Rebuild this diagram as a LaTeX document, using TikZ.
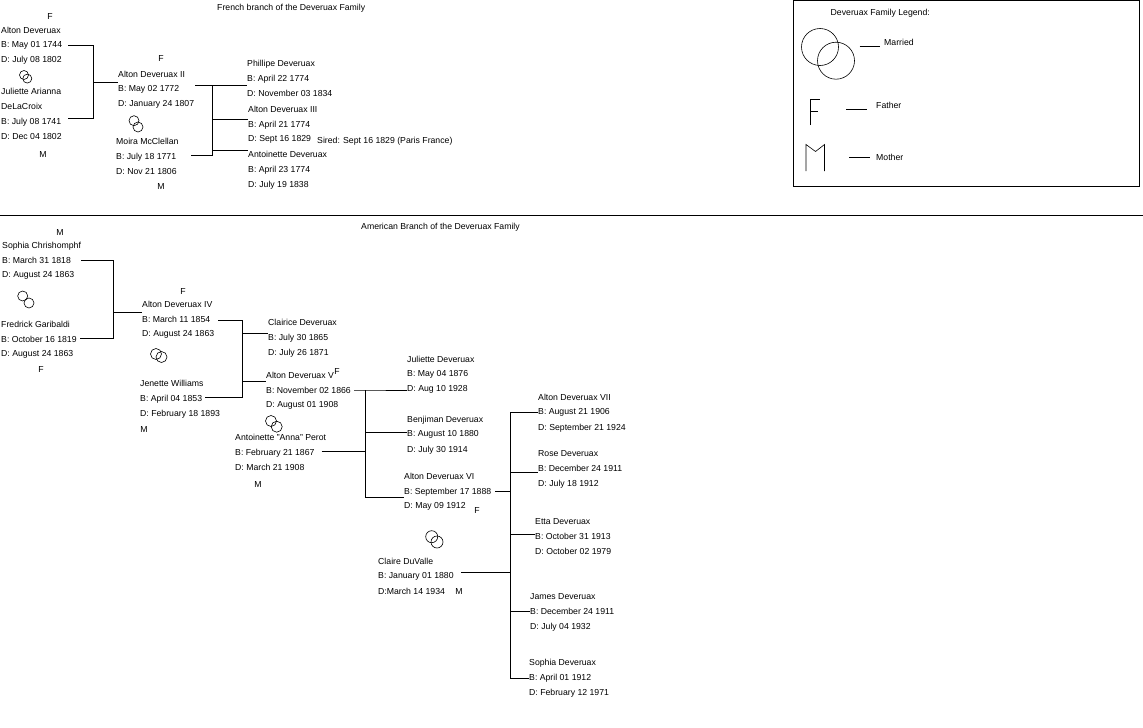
\documentclass[tikz,border=0pt]{standalone}
\usepackage{fontspec}
\setmainfont{Liberation Sans}
\tikzset{
  txt/.style={anchor=west,inner sep=0pt,yshift=-0.8pt,font=\fontsize{8.7}{10}\selectfont},
  lbl/.style={inner sep=0pt,yshift=-0.8pt,font=\fontsize{8.7}{10}\selectfont},
  ln/.style={line width=0.9pt,black},
  ring/.style={line width=0.6pt,black}
}
% one person: id, x, y of the name line, name, born, died
\newcommand{\person}[6]{
  \node[txt] (#1n) at (#2,#3) {#4};
  \node[txt] (#1b) at (#2,#3+15) {#5};
  \node[txt] (#1d) at (#2,#3+30) {#6};
}
\begin{document}
\begin{tikzpicture}[x=1pt,y=-1pt]
  \useasboundingbox (0,0) rectangle (1143,728);
  % French branch
  \node[txt] (frtitle) at (217,7) {French branch of the Deveruax Family};
  \node[lbl] (frf1) at (50,16) {F};
  \person{alton1}{1}{29.5}{Alton Deveruax}{B: May 01 1744}{D: July 08 1802}
  \node[txt] (juliette1x) at (1,91) {Juliette Arianna};
  \person{juliette1}{1}{106}{DeLaCroix}{B: July 08 1741}{D: Dec 04 1802}
  \node[lbl] (frm1) at (43,154) {M};
  \node[lbl] (frf2) at (161,58) {F};
  \person{alton2}{118}{74}{Alton Deveruax II}{B: May 02 1772}{D: January 24 1807}
  \person{moira}{116}{141}{Moira McClellan}{B: July 18 1771}{D: Nov 21 1806}
  \node[lbl] (frm2) at (161,186) {M};
  \person{phillipe}{247}{63}{Phillipe Deveruax}{B: April 22 1774}{D: November 03 1834}
  \person{alton3}{248}{109}{Alton Deveruax III}{B: April 21 1774}{D: Sept 16 1829}
  \node[txt] (sired) at (317,140) {Sired: Sept 16 1829 (Paris France)};
  \person{antoinette1}{248}{154}{Antoinette Deveruax}{B: April 23 1774}{D: July 19 1838}
  \coordinate (frj1) at (93,82);
  \coordinate (frj1a) at (93,45);
  \coordinate (frj1b) at (93,118);
  \coordinate (frj2) at (212.5,85.5);
  \coordinate (frj3) at (212.5,155);
  \draw[ln] ([xshift=6]alton1b.east |- frj1a) -- (frj1a) -- (frj1b) -- ([xshift=7]juliette1b.east |- frj1b);
  \draw[ln] (frj1) -- (frj1 -| alton2n.west);
  \draw[ln] ([xshift=16]alton2b.east |- frj2) -- (frj2) -- (frj3) -- ([xshift=15]moirab.east |- frj3);
  \draw[ln] (frj2) -- (frj2 -| phillipeb.west);
  \draw[ln] (212.5,119) -- (212.5,119 -| alton3b.west);
  \draw[ln] (212.5,150) -- (212.5,150 -| antoinette1b.west);
  % legend
  \draw[ln] (793,0.5) rectangle (1139,186);
  \node[txt] (legtitle) at (830.5,12.5) {Deveruax Family Legend:};
  \draw[ring] (820,47) circle (18.5pt);
  \draw[ring] (836,60.7) circle (18.5pt);
  \node[txt] (legmarried) at (884,41.5) {Married};
  \node[txt] (legfather) at (876,104.5) {Father};
  \node[txt] (legmother) at (876,157) {Mother};
  \coordinate (legm) at (859.5,46);
  \coordinate (legf) at (846,109);
  \coordinate (legn) at (849,157);
  \draw[ln] (legm) -- ++(20.5,0);
  \draw[ln] (legf) -- ++(21,0);
  \draw[ln] (legn) -- ++(21,0);
  \draw[ring] (810.3,125) -- (810.3,99.3) -- (819.5,99.3);
  \draw[ring] (810.3,111) -- (817.5,111);
  \draw[ring] (806,171) -- (806,144.5) -- (815.5,151.5) -- (824.5,144.5) -- (824.5,171);
  % divider
  \draw[ln] (0,215) -- (1143,215);
  % American branch
  \node[txt] (amtitle) at (361,226) {American Branch of the Deveruax Family};
  \node[lbl] (amm1) at (60,232) {M};
  \person{sophia1}{2}{245}{Sophia Chrishomphf}{B: March 31 1818}{D: August 24 1863}
  \person{fredrick}{1}{324}{Fredrick Garibaldi}{B: October 16 1819}{D: August 24 1863}
  \node[lbl] (amf1) at (41,369) {F};
  \node[lbl] (amf2) at (183,291) {F};
  \person{alton4}{142}{304}{Alton Deveruax IV}{B: March 11 1854}{D: August 24 1863}
  \person{jenette}{140}{383}{Jenette Williams}{B: April 04 1853}{D: February 18 1893}
  \node[lbl] (amm2) at (144,429) {M};
  \person{clairice}{268}{322}{Clairice Deveruax}{B: July 30 1865}{D: July 26 1871}
  \person{alton5}{266}{375}{Alton Deveruax V}{B: November 02 1866}{D: August 01 1908}
  \node[lbl] (amf3) at (337,371) {F};
  \person{anna}{235}{437}{Antoinette "Anna" Perot}{B: February 21 1867}{D: March 21 1908}
  \node[lbl] (amm3) at (258,484) {M};
  \person{juliette2}{407}{359}{Juliette Deveruax}{B: May 04 1876}{D: Aug 10 1928}
  \person{benjiman}{407}{419}{Benjiman Deveruax}{B: August 10 1880}{D: July 30 1914}
  \person{alton6}{404}{476}{Alton Deveruax VI}{B: September 17 1888}{D: May 09 1912}
  \node[lbl] (amf4) at (477,510) {F};
  \person{claire}{378}{561}{Claire DuValle}{B: January 01 1880}{D:March 14 1934}
  \node[lbl] (amm4) at (459,591) {M};
  \person{alton7}{538}{397}{Alton Deveruax VII}{B: August 21 1906}{D: September 21 1924}
  \person{rose}{538}{453}{Rose Deveruax}{B: December 24 1911}{D: July 18 1912}
  \person{etta}{535}{521}{Etta Deveruax}{B: October 31 1913}{D: October 02 1979}
  \person{james}{530}{596}{James Deveruax}{B: December 24 1911}{D: July 04 1932}
  \person{sophia2}{529}{662}{Sophia Deveruax}{B: April 01 1912}{D: February 12 1971}
  \coordinate (amj1) at (113.5,312);
  \coordinate (amj1a) at (113.5,260.5);
  \coordinate (amj1b) at (113.5,338);
  \coordinate (amj2) at (242.3,320);
  \coordinate (amj3) at (242.3,397);
  \coordinate (amj4) at (365,390);
  \coordinate (amj5) at (365,451);
  \coordinate (amj5b) at (365,497);
  \coordinate (amj6) at (510.3,412);
  \coordinate (amj6b) at (510.3,491);
  \coordinate (amj6c) at (510.3,572);
  \coordinate (amj7) at (510.3,678);
  \draw[ln] ([xshift=10]sophia1b.east |- amj1a) -- (amj1a) -- (amj1b) -- ([xshift=3]fredrickb.east |- amj1b);
  \draw[ln] (amj1) -- (amj1 -| alton4n.west);
  \draw[ln] ([xshift=8]alton4b.east |- amj2) -- (amj2) -- (amj3) -- ([xshift=3]jenetteb.east |- amj3);
  \draw[ln] (242.3,333) -- (242.3,333 -| clairiceb.west);
  \draw[ln] (242.3,381) -- (242.3,381 -| alton5b.west);
  \draw[ln] ([xshift=3]alton5b.east |- amj4) -- (amj4) -- (amj4 -| juliette2d.west);
  \draw[ln] (amj4) -- (amj5);
  \draw[ln] ([xshift=7]annab.east |- amj5) -- (amj5);
  \draw[ln] (365,432) -- (365,432 -| benjimanb.west);
  \draw[ln] (amj5) -- (amj5b) -- (amj5b -| alton6b.west);
  \draw[ln] ([xshift=4]alton6b.east |- amj6b) -- (amj6b);
  \draw[ln] ([xshift=7]claireb.east |- amj6c) -- (amj6c);
  \draw[ln] (amj6) -- (amj7);
  \draw[ln] (amj6) -- (amj6 -| alton7b.west);
  \draw[ln] (510.3,472) -- (510.3,472 -| roseb.west);
  \draw[ln] (510.3,534) -- (510.3,534 -| ettab.west);
  \draw[ln] (510.3,611) -- (510.3,611 -| jamesb.west);
  \draw[ln] (amj7) -- (amj7 -| sophia2b.west);
  % married rings
  \foreach \xa/\ya/\xb/\yb/\rad in {24/75/27.3/78.6/4.5,134/120.7/138/127/5,22.7/296/29/303/5,
      156/354/161.5/357/5.5,271/421/276.7/426.7/5.5,431.7/536.7/437/542/6}
  {
    \draw[ring] (\xa,\ya) circle (\rad pt);
    \draw[ring] (\xb,\yb) circle (\rad pt);
  }
\end{tikzpicture}
\end{document}
